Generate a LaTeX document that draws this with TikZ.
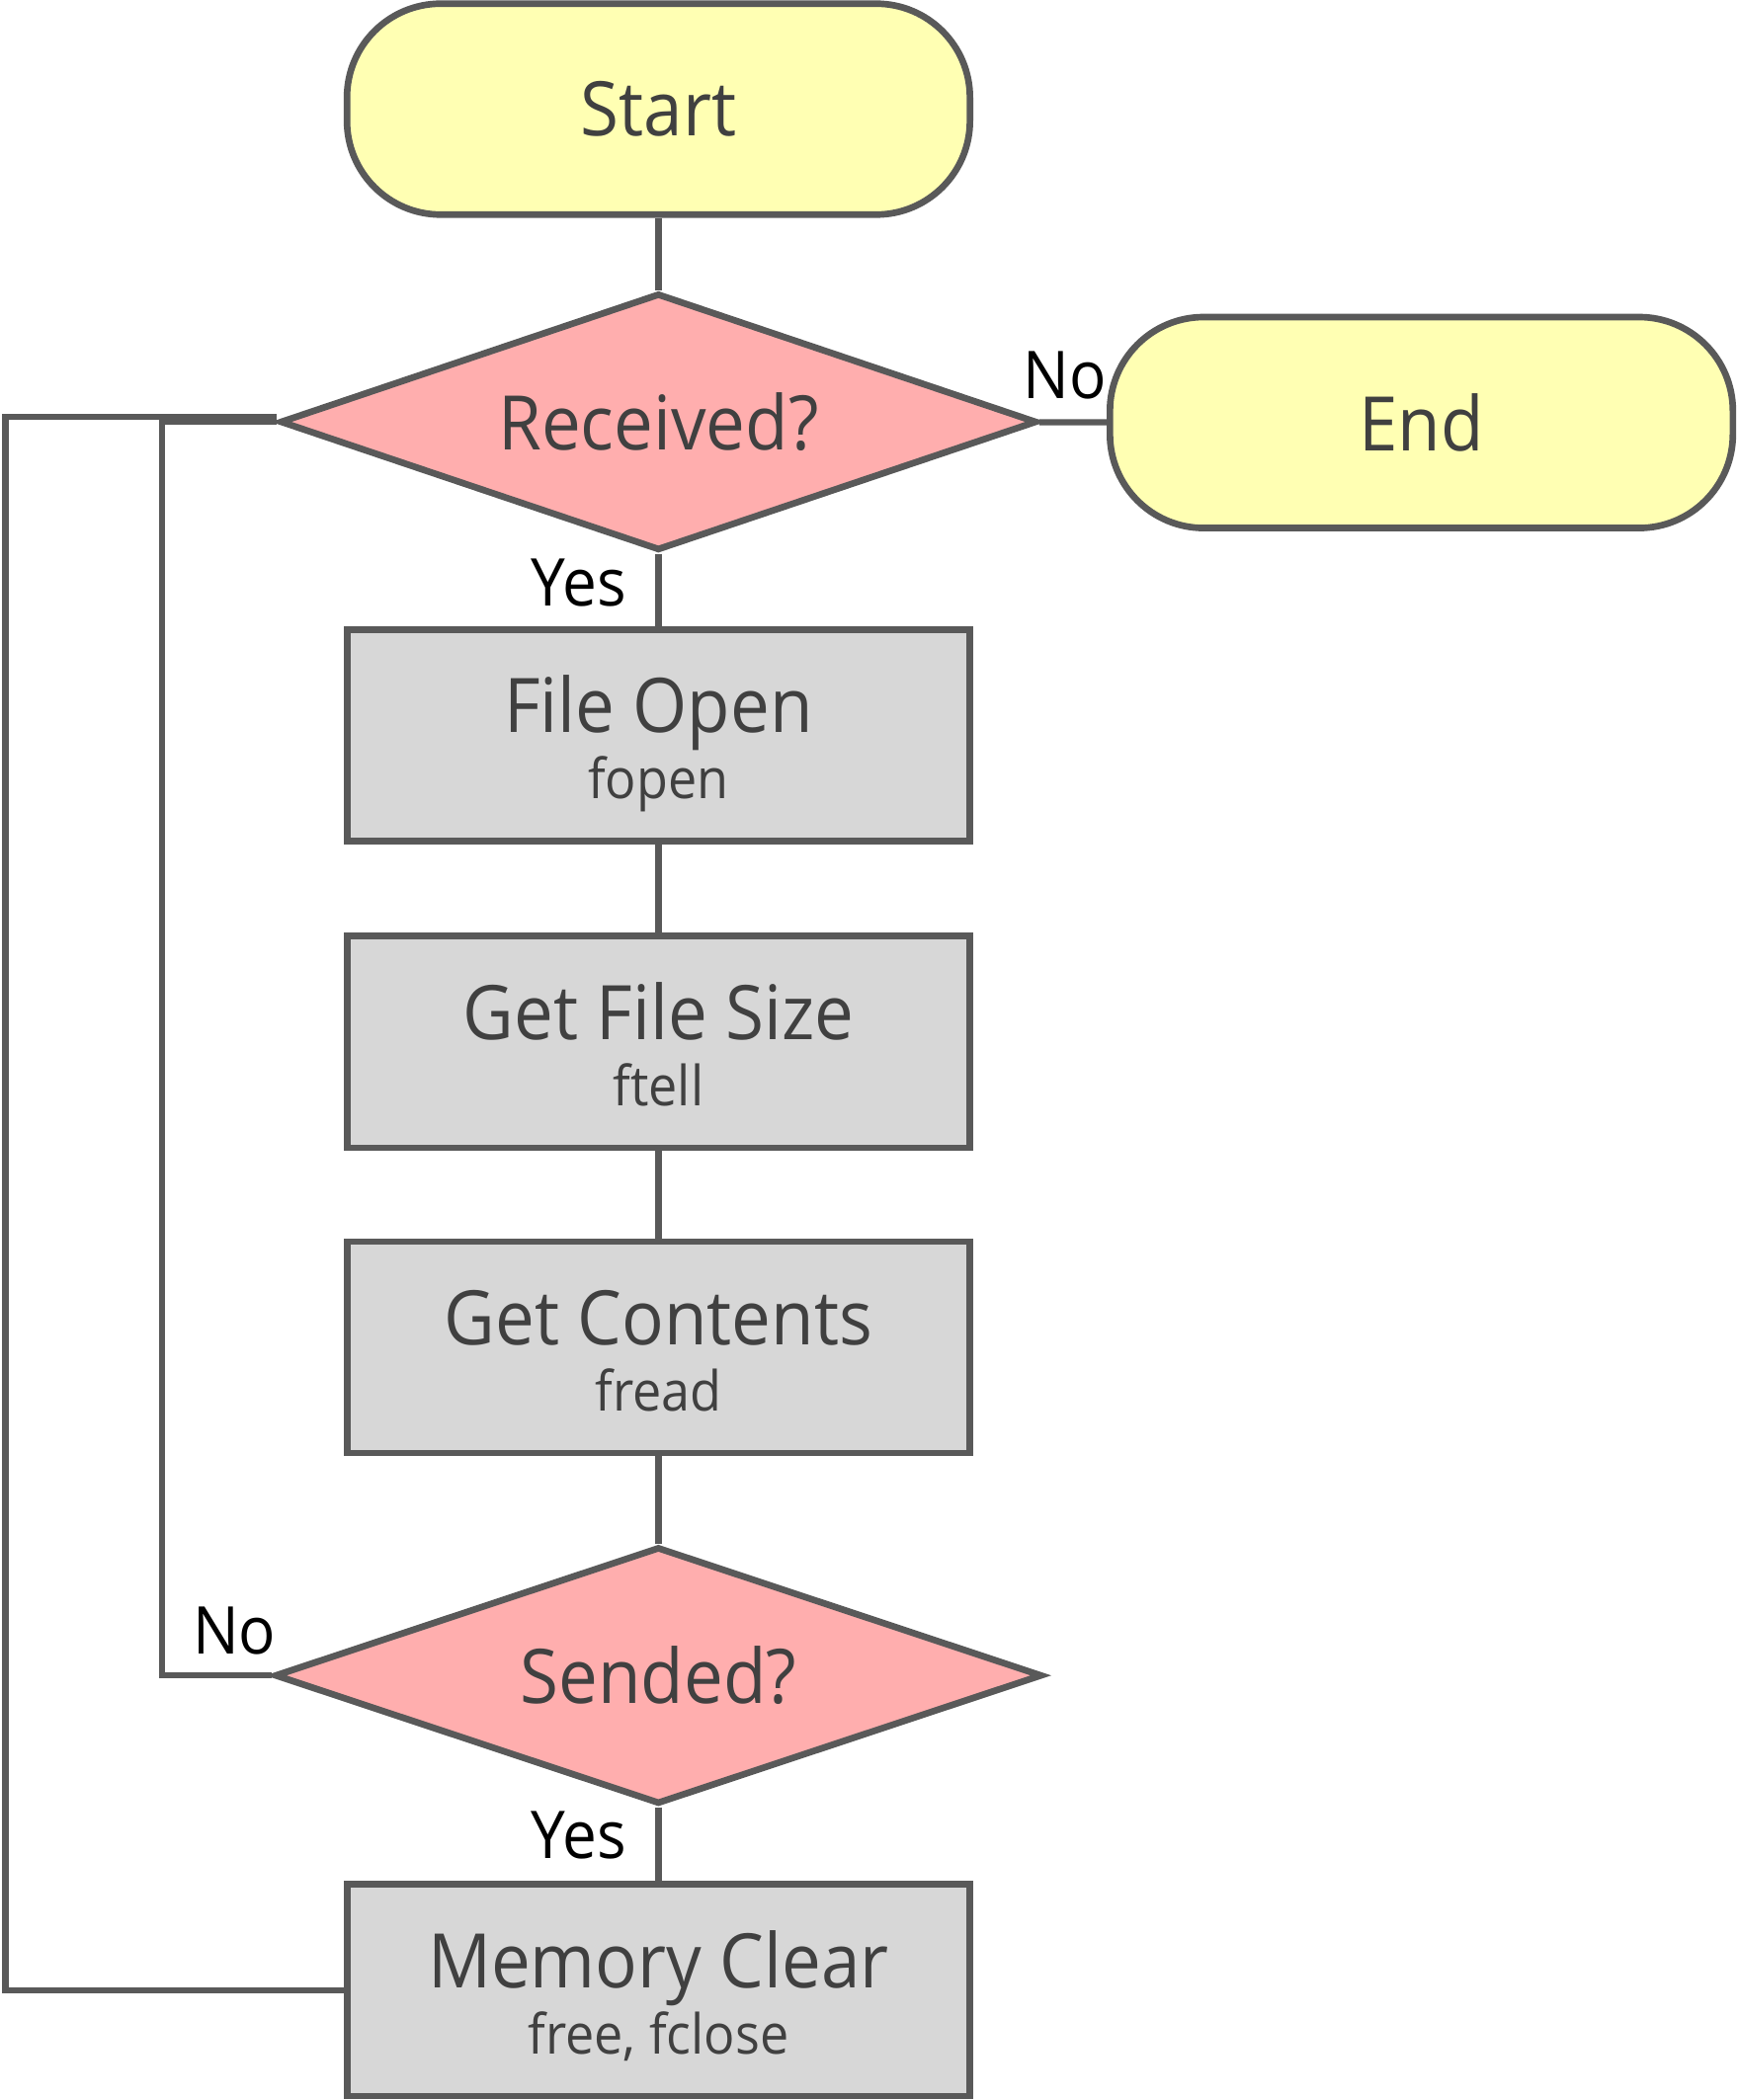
\documentclass[tikz,border=0pt]{standalone}
\usepackage{fontspec}
\setmainfont{Open Sans}[FakeStretch=0.93]
\usetikzlibrary{shapes.geometric}
\definecolor{termfill}{HTML}{FFFFB3}
\definecolor{decfill}{HTML}{FFAEAE}
\definecolor{procfill}{HTML}{D7D7D7}
\definecolor{edgegray}{HTML}{595959}
\definecolor{txtgray}{HTML}{404040}
% main line with its call name below
\newcommand{\steptext}[2]{\rule{0pt}{32pt}#1\\{\fontsize{23.5}{28}\selectfont\rule[-6pt]{0pt}{6pt}#2}}
\tikzset{
  term/.style={draw=edgegray, fill=termfill, line width=2.8pt, rounded corners=1.4cm,
    minimum width=9.3cm, minimum height=3.15cm, text=txtgray, font=\fontsize{32}{38}\selectfont},
  proc/.style={draw=edgegray, fill=procfill, line width=2.8pt, minimum width=9.3cm,
    minimum height=3.16cm, text=txtgray, align=center, font=\fontsize{32}{28}\selectfont},
  dec/.style={draw=edgegray, fill=decfill, line width=2.8pt, diamond, aspect=2.94,
    minimum width=11.3cm, minimum height=3.84cm, inner sep=0pt, text=txtgray,
    font=\fontsize{32}{38}\selectfont},
  lbl/.style={text=black, font=\fontsize{28}{32}\selectfont, inner sep=0pt},
  link/.style={draw=edgegray, line width=2.6pt}
}
\begin{document}
\begin{tikzpicture}
    \useasboundingbox (0,0) rectangle (25.92,-31.36);
    \node[term] (start) at (9.83,-1.63) {Start};
    \node[dec] (recv) at (9.83,-6.30) {Received?};
    \node[term] (end) at (21.22,-6.31) {End};
    \node[proc] (open) at (9.83,-10.98) {\steptext{File Open}{fopen}};
    \node[proc] (size) at (9.83,-15.56) {\steptext{Get File Size}{ftell}};
    \node[proc] (cont) at (9.83,-20.12) {\steptext{Get Contents}{fread}};
    \node[dec, minimum width=11.46cm] (send) at (9.83,-25.02) {Sended?};
    \node[proc] (mem) at (9.83,-29.72) {\steptext{Memory Clear}{free, fclose}};
    \coordinate (outer) at (0.08,-20);
    \coordinate (inner) at (2.42,-20);
    \draw[link] (start) -- (recv);
    \draw[link] (recv) -- (end);
    \draw[link] (recv) -- (open);
    \draw[link] (open) -- (size);
    \draw[link] (size) -- (cont);
    \draw[link] (cont) -- (send);
    \draw[link] (send) -- (mem);
    \draw[link] (send.west) -| (inner) |- (recv.west);
    \draw[link] (mem.west) -| (outer) |- ([yshift=2pt]recv.west);
    \node[lbl] (no1) at (15.9,-5.6) {No};
    \node[lbl] (yes1) at (8.64,-8.7) {Yes};
    \node[lbl] (no2) at (3.5,-24.36) {No};
    \node[lbl] (yes2) at (8.64,-27.4) {Yes};
\end{tikzpicture}
\end{document}
